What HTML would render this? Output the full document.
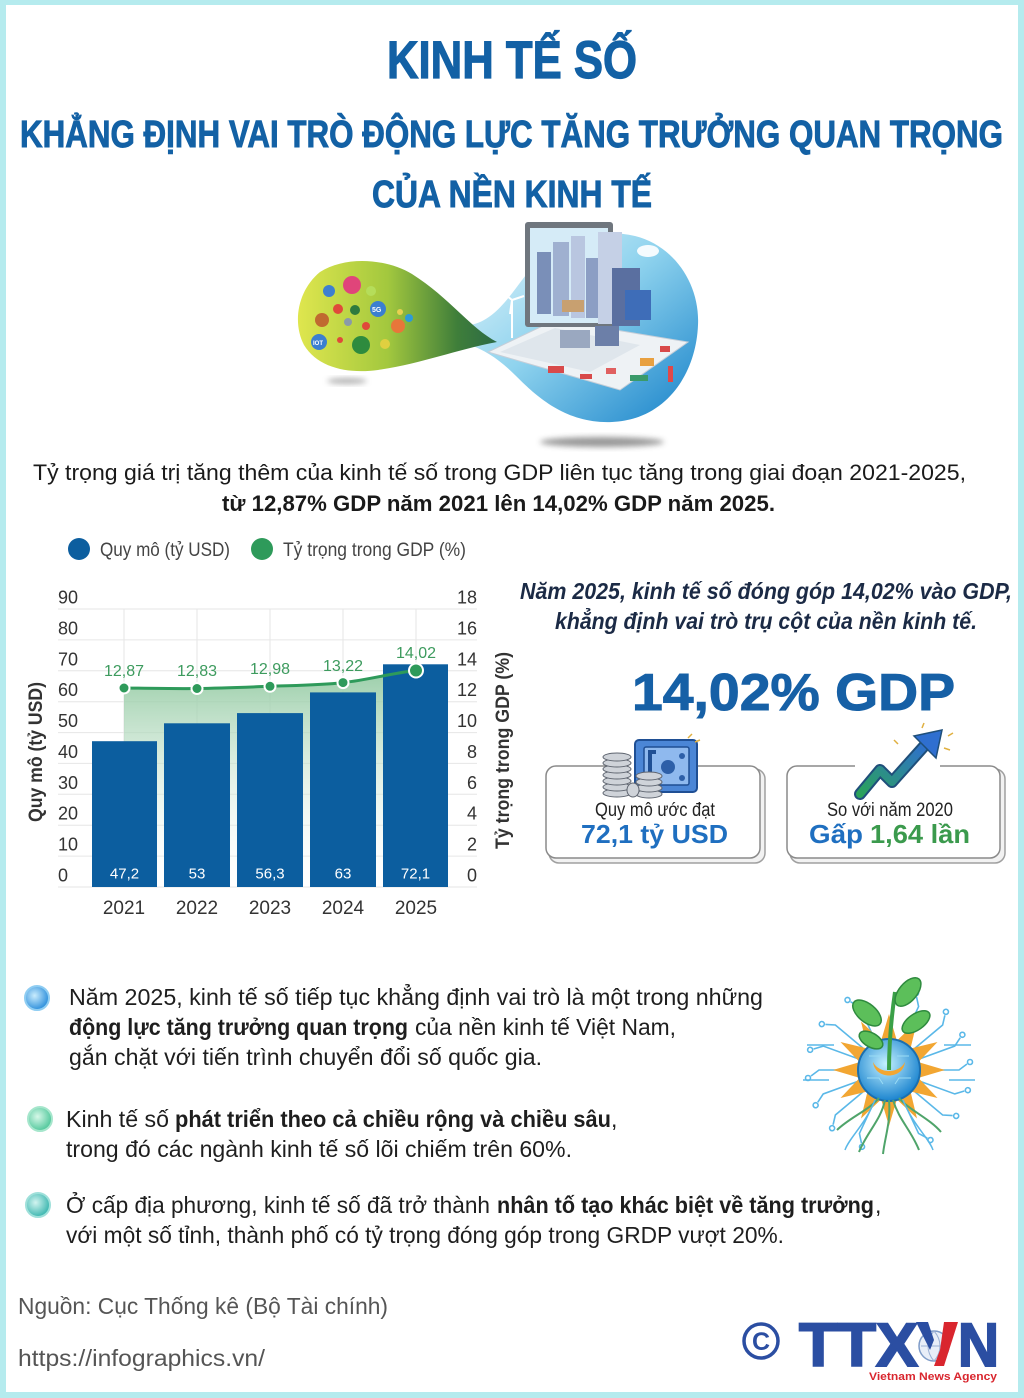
<!DOCTYPE html>
<html><head><meta charset="utf-8">
<style>
html,body{margin:0;padding:0;background:#fff;}
svg{display:block;}
text{font-family:"Liberation Sans","Noto Sans CJK SC",sans-serif;}
</style></head><body>
<svg width="1024" height="1398" viewBox="0 0 1024 1398" xmlns="http://www.w3.org/2000/svg">
<defs>
 <linearGradient id="gGreen" x1="0" y1="0" x2="1" y2="0">
  <stop offset="0" stop-color="#dfe64e"/><stop offset="0.45" stop-color="#a3c83e"/><stop offset="0.8" stop-color="#3f7e3a"/><stop offset="1" stop-color="#2b6a45"/>
 </linearGradient>
 <linearGradient id="gBlue" x1="0" y1="0" x2="1" y2="1">
  <stop offset="0" stop-color="#e6f6fb"/><stop offset="0.45" stop-color="#8fd3ee"/><stop offset="1" stop-color="#1681c9"/>
 </linearGradient>
 <linearGradient id="gArea" x1="0" y1="0" x2="0" y2="1">
  <stop offset="0" stop-color="#8fc89f" stop-opacity="0.9"/><stop offset="1" stop-color="#ffffff" stop-opacity="0.1"/>
 </linearGradient>
 <radialGradient id="gB1" cx="0.4" cy="0.4" r="0.6"><stop offset="0" stop-color="#c9ecfd"/><stop offset="1" stop-color="#2f90dc"/></radialGradient>
 <radialGradient id="gB2" cx="0.4" cy="0.4" r="0.6"><stop offset="0" stop-color="#d6f8e8"/><stop offset="1" stop-color="#52c89c"/></radialGradient>
 <radialGradient id="gB3" cx="0.4" cy="0.4" r="0.6"><stop offset="0" stop-color="#d2f4f0"/><stop offset="1" stop-color="#3db7b0"/></radialGradient>
 <radialGradient id="gPlant" cx="0.45" cy="0.4" r="0.6"><stop offset="0" stop-color="#c4f1ff"/><stop offset="1" stop-color="#1b84cf"/></radialGradient>
 <linearGradient id="gArrow" x1="0" y1="1" x2="1" y2="0"><stop offset="0" stop-color="#2aa25a"/><stop offset="1" stop-color="#2f6fd0"/></linearGradient>
 <filter id="blur" x="-50%" y="-50%" width="200%" height="200%"><feGaussianBlur stdDeviation="3"/></filter>
</defs>

<rect width="1024" height="1398" fill="#b5ebee"/>
<rect x="6" y="5" width="1012" height="1387" fill="#ffffff"/>

<!-- Titles -->
<text x="387" y="78" font-size="53" font-weight="bold" fill="#1361a5" stroke="#1361a5" stroke-width="1.2" textLength="250" lengthAdjust="spacingAndGlyphs">KINH TẾ SỐ</text>
<text x="20" y="147" font-size="38" font-weight="bold" fill="#1361a5" stroke="#1361a5" stroke-width="0.9" textLength="983" lengthAdjust="spacingAndGlyphs">KHẲNG ĐỊNH VAI TRÒ ĐỘNG LỰC TĂNG TRƯỞNG QUAN TRỌNG</text>
<text x="372" y="207" font-size="38" font-weight="bold" fill="#1361a5" stroke="#1361a5" stroke-width="0.9" textLength="280" lengthAdjust="spacingAndGlyphs">CỦA NỀN KINH TẾ</text>

<!-- Illustration -->
<ellipse cx="347" cy="381" rx="20" ry="3" fill="#666" opacity="0.5" filter="url(#blur)"/>
<ellipse cx="602" cy="442" rx="62" ry="5" fill="#444" opacity="0.55" filter="url(#blur)"/>
<path d="M470,325 C500,320 515,285 540,258 C560,238 600,228 635,236 C675,246 700,285 698,325 C696,375 665,420 612,422 C565,424 535,395 515,375 C500,360 485,350 470,345 Z" fill="url(#gBlue)"/>
<path d="M497,342 C470,328 450,298 412,274 C385,258 345,256 320,272 C298,290 292,322 304,345 C318,368 348,374 378,370 C420,364 455,350 497,342 Z" fill="url(#gGreen)"/>
<circle cx="352" cy="285" r="9" fill="#e0457a"/>
<circle cx="371" cy="291" r="5" fill="#b5dd5a"/>
<circle cx="329" cy="291" r="6" fill="#3e7fd0"/>
<circle cx="378" cy="309" r="8" fill="#3b7fd0"/>
<text x="372" y="312" font-size="7" font-weight="bold" fill="#fff">5G</text>
<circle cx="338" cy="309" r="5" fill="#e04a3a"/>
<circle cx="355" cy="310" r="5" fill="#2e7a3e"/>
<circle cx="322" cy="320" r="7" fill="#c06a30"/>
<circle cx="348" cy="322" r="4" fill="#8a9aa8"/>
<circle cx="366" cy="326" r="4" fill="#e04a3a"/>
<circle cx="398" cy="326" r="7" fill="#e8763a"/>
<circle cx="409" cy="318" r="4" fill="#2d9ad8"/>
<circle cx="319" cy="342" r="8" fill="#3b7fd0"/>
<text x="313" y="345" font-size="6" font-weight="bold" fill="#fff">IOT</text>
<circle cx="340" cy="340" r="3" fill="#e04a3a"/>
<circle cx="361" cy="345" r="9" fill="#2e8b3e"/>
<circle cx="385" cy="344" r="5" fill="#e0d040"/>
<circle cx="400" cy="312" r="3" fill="#e8d050"/>
<polygon points="488,352 555,320 688,342 620,390" fill="#eef2f5" stroke="#c5ced8"/>
<polygon points="500,352 555,328 640,345 590,372" fill="#dfe6ec"/>
<rect x="525" y="222" width="88" height="105" rx="3" fill="#6f767e"/>
<rect x="530" y="228" width="78" height="95" fill="#d5ebf7"/>
<rect x="537" y="252" width="14" height="62" fill="#7a8fb8"/>
<rect x="553" y="242" width="16" height="74" fill="#9fb0d0"/>
<rect x="571" y="236" width="14" height="82" fill="#b9c6e0"/>
<rect x="586" y="258" width="16" height="60" fill="#8c9ec4"/>
<rect x="598" y="232" width="24" height="92" fill="#c5d0e6"/>
<rect x="612" y="268" width="28" height="58" fill="#5a6fa0"/>
<rect x="625" y="290" width="26" height="30" fill="#3e6db8"/>
<rect x="562" y="300" width="22" height="12" fill="#c8a070"/>
<rect x="560" y="330" width="30" height="18" fill="#9aa8c0"/>
<rect x="595" y="326" width="24" height="20" fill="#6c7fa8"/>
<line x1="512" y1="300" x2="512" y2="338" stroke="#fff" stroke-width="2"/>
<path d="M512,300 L500,290 M512,300 L524,296 M512,300 L510,314" stroke="#fff" stroke-width="2"/>
<rect x="548" y="366" width="16" height="7" fill="#d84a4a"/>
<rect x="580" y="374" width="12" height="5" fill="#d84a4a"/>
<rect x="606" y="368" width="10" height="6" fill="#e06060"/>
<rect x="640" y="358" width="14" height="8" fill="#e8a040"/>
<rect x="660" y="346" width="10" height="6" fill="#d84a4a"/>
<rect x="668" y="366" width="5" height="16" fill="#e04848"/>
<rect x="630" y="375" width="18" height="6" fill="#3a9a6a"/>
<ellipse cx="648" cy="251" rx="11" ry="6" fill="#fff" opacity="0.9"/>
<ellipse cx="681" cy="237" rx="8" ry="5" fill="#fff" opacity="0.9"/>

<!-- Intro -->
<text x="33" y="480" font-size="22" fill="#1a1a1a" textLength="933" lengthAdjust="spacingAndGlyphs">Tỷ trọng giá trị tăng thêm của kinh tế số trong GDP liên tục tăng trong giai đoạn 2021-2025,</text>
<text x="222" y="511" font-size="22" font-weight="bold" fill="#1a1a1a" textLength="553" lengthAdjust="spacingAndGlyphs">từ 12,87% GDP năm 2021 lên 14,02% GDP năm 2025.</text>

<!-- Legend -->
<circle cx="79" cy="549" r="11" fill="#0c5e9f"/>
<text x="100" y="556" font-size="19" fill="#444" textLength="130" lengthAdjust="spacingAndGlyphs">Quy mô (tỷ USD)</text>
<circle cx="262" cy="549" r="11" fill="#2e9a5a"/>
<text x="283" y="556" font-size="19" fill="#444" textLength="183" lengthAdjust="spacingAndGlyphs">Tỷ trọng trong GDP (%)</text>

<!-- Chart gridlines -->
<g stroke="#e6e6e6" stroke-width="1">
 <line x1="58" y1="609" x2="477" y2="609"/>
 <line x1="58" y1="639.9" x2="477" y2="639.9"/>
 <line x1="58" y1="670.8" x2="477" y2="670.8"/>
 <line x1="58" y1="701.7" x2="477" y2="701.7"/>
 <line x1="58" y1="732.6" x2="477" y2="732.6"/>
 <line x1="58" y1="763.4" x2="477" y2="763.4"/>
 <line x1="58" y1="794.3" x2="477" y2="794.3"/>
 <line x1="58" y1="825.2" x2="477" y2="825.2"/>
 <line x1="58" y1="856.1" x2="477" y2="856.1"/>
 <line x1="58" y1="887" x2="477" y2="887"/>
 <line x1="124" y1="609" x2="124" y2="887"/>
 <line x1="197" y1="609" x2="197" y2="887"/>
 <line x1="270" y1="609" x2="270" y2="887"/>
 <line x1="343" y1="609" x2="343" y2="887"/>
 <line x1="416" y1="609" x2="416" y2="887"/>
</g>
<path d="M124,688 C148,688.3 173,688.8 197,688.5 C221,688.2 246,687.2 270,686.3 C294,685.4 320,685.2 343,682.6 C368,680 392,673 416,670.5 L416,887 L124,887 Z" fill="url(#gArea)"/>
<g fill="#0c5e9f">
 <rect x="92" y="741.2" width="65" height="145.8"/>
 <rect x="164" y="723.3" width="66" height="163.7"/>
 <rect x="237" y="713.1" width="66" height="173.9"/>
 <rect x="310" y="692.4" width="66" height="194.6"/>
 <rect x="383" y="664.3" width="65" height="222.7"/>
</g>
<path d="M124,688 C148,688.3 173,688.8 197,688.5 C221,688.2 246,687.2 270,686.3 C294,685.4 320,685.2 343,682.6 C368,680 392,673 416,670.5" fill="none" stroke="#2e9a5a" stroke-width="3"/>
<g fill="#2e9a5a" stroke="#fff" stroke-width="2">
 <circle cx="124" cy="688" r="5.5"/>
 <circle cx="197" cy="688.5" r="5.5"/>
 <circle cx="270" cy="686.3" r="5.5"/>
 <circle cx="343" cy="682.6" r="5.5"/>
 <circle cx="416" cy="670.5" r="7"/>
</g>
<g font-size="16" fill="#3d9b5e" text-anchor="middle">
 <text x="124" y="676">12,87</text>
 <text x="197" y="676">12,83</text>
 <text x="270" y="674">12,98</text>
 <text x="343" y="671">13,22</text>
 <text x="416" y="658">14,02</text>
</g>
<g font-size="15" fill="#ffffff" text-anchor="middle">
 <text x="124.5" y="878.5">47,2</text>
 <text x="197" y="878.5">53</text>
 <text x="270" y="878.5">56,3</text>
 <text x="343" y="878.5">63</text>
 <text x="415.5" y="878.5">72,1</text>
</g>
<g font-size="19" fill="#333" text-anchor="middle">
 <text x="124" y="914">2021</text>
 <text x="197" y="914">2022</text>
 <text x="270" y="914">2023</text>
 <text x="343" y="914">2024</text>
 <text x="416" y="914">2025</text>
</g>
<g font-size="18" fill="#333">
 <text x="58" y="603.5">90</text>
 <text x="58" y="634.4">80</text>
 <text x="58" y="665.3">70</text>
 <text x="58" y="696.2">60</text>
 <text x="58" y="727.1">50</text>
 <text x="58" y="757.9">40</text>
 <text x="58" y="788.8">30</text>
 <text x="58" y="819.7">20</text>
 <text x="58" y="850.6">10</text>
 <text x="58" y="881.5">0</text>
</g>
<g font-size="18" fill="#333" text-anchor="end">
 <text x="477" y="603.5">18</text>
 <text x="477" y="634.4">16</text>
 <text x="477" y="665.3">14</text>
 <text x="477" y="696.2">12</text>
 <text x="477" y="727.1">10</text>
 <text x="477" y="757.9">8</text>
 <text x="477" y="788.8">6</text>
 <text x="477" y="819.7">4</text>
 <text x="477" y="850.6">2</text>
 <text x="477" y="881.5">0</text>
</g>
<text transform="translate(42,752) rotate(-90)" x="-70" y="0" font-size="19" font-weight="bold" fill="#333" textLength="140" lengthAdjust="spacingAndGlyphs">Quy mô (tỷ USD)</text>
<text transform="translate(509,751) rotate(-90)" x="-98" y="0" font-size="19" font-weight="bold" fill="#333" textLength="197" lengthAdjust="spacingAndGlyphs">Tỷ trọng trong GDP (%)</text>

<!-- Right panel -->
<text x="520" y="599" font-size="23" font-weight="bold" font-style="italic" fill="#1b2a45" textLength="492" lengthAdjust="spacingAndGlyphs">Năm 2025, kinh tế số đóng góp 14,02% vào GDP,</text>
<text x="555" y="629" font-size="23" font-weight="bold" font-style="italic" fill="#1b2a45" textLength="422" lengthAdjust="spacingAndGlyphs">khẳng định vai trò trụ cột của nền kinh tế.</text>
<text x="632" y="710" font-size="52" font-weight="bold" fill="#1660a6" stroke="#1660a6" stroke-width="1" textLength="323" lengthAdjust="spacingAndGlyphs">14,02% GDP</text>

<!-- Boxes -->
<rect x="549" y="769" width="216" height="94" rx="10" fill="#f2f2f2" stroke="#a0a0a0" stroke-width="1.5"/>
<rect x="546" y="766" width="214" height="92" rx="10" fill="#fff" stroke="#8a8a8a" stroke-width="1.5"/>
<rect x="790" y="769" width="215" height="94" rx="10" fill="#f2f2f2" stroke="#a0a0a0" stroke-width="1.5"/>
<rect x="787" y="766" width="213" height="92" rx="10" fill="#fff" stroke="#8a8a8a" stroke-width="1.5"/>
<rect x="607" y="760" width="90" height="10" fill="#fff"/>
<rect x="855" y="760" width="85" height="10" fill="#fff"/>

<!-- Safe icon -->
<rect x="635" y="740" width="62" height="52" rx="4" fill="#4b86d6" stroke="#1f4f94" stroke-width="2"/>
<rect x="644" y="747" width="45" height="38" rx="2" fill="#8fb9ee" stroke="#1f4f94" stroke-width="1.5"/>
<path d="M656,752 L650,752 L650,780 L656,780" fill="none" stroke="#1f4f94" stroke-width="4"/>
<circle cx="668" cy="767" r="7" fill="#2d5fa8"/>
<circle cx="682" cy="756" r="3" fill="#2d5fa8"/>
<circle cx="682" cy="778" r="3" fill="#2d5fa8"/>
<path d="M688,738 L692,734 M695,742 L700,740" stroke="#e0b040" stroke-width="1.5"/>
<g fill="#cfd3d9" stroke="#5f6570" stroke-width="1">
 <ellipse cx="617" cy="793" rx="14" ry="4"/>
 <ellipse cx="617" cy="787" rx="14" ry="4"/>
 <ellipse cx="617" cy="781" rx="14" ry="4"/>
 <ellipse cx="617" cy="775" rx="14" ry="4"/>
 <ellipse cx="617" cy="769" rx="14" ry="4"/>
 <ellipse cx="617" cy="763" rx="14" ry="4"/>
 <ellipse cx="617" cy="757" rx="14" ry="4"/>
 <ellipse cx="649" cy="794" rx="13" ry="4"/>
 <ellipse cx="649" cy="788" rx="13" ry="4"/>
 <ellipse cx="649" cy="782" rx="13" ry="4"/>
 <ellipse cx="649" cy="776" rx="13" ry="4"/>
 <ellipse cx="633" cy="790" rx="6" ry="7"/>
</g>
<!-- Arrow icon -->
<polyline points="860,794 880,770 892,782 926,744" fill="none" stroke="#1f4f7a" stroke-width="12" stroke-linejoin="round" stroke-linecap="round"/>
<polyline points="860,794 880,770 892,782 926,744" fill="none" stroke="url(#gArrow)" stroke-width="8" stroke-linejoin="round" stroke-linecap="round"/>
<polygon points="914,736 942,730 936,758" fill="#2f6fd0" stroke="#1f4f7a" stroke-width="1.5"/>
<path d="M894,740 L898,744 M922,728 L924,723 M944,748 L950,750 M948,736 L953,733" stroke="#e0b040" stroke-width="1.5"/>

<text x="595" y="816" font-size="19" fill="#222" textLength="120" lengthAdjust="spacingAndGlyphs">Quy mô ước đạt</text>
<text x="581" y="843" font-size="26" font-weight="bold" fill="#1f6fc0" textLength="147" lengthAdjust="spacingAndGlyphs">72,1 tỷ USD</text>
<text x="827" y="816" font-size="19" fill="#222" textLength="126" lengthAdjust="spacingAndGlyphs">So với năm 2020</text>
<text x="809" y="843" font-size="26" font-weight="bold" fill="#1f6fc0" textLength="54" lengthAdjust="spacingAndGlyphs">Gấp</text>
<text x="870" y="843" font-size="26" font-weight="bold" fill="#3b9a4d" textLength="100" lengthAdjust="spacingAndGlyphs">1,64 lần</text>

<!-- Bullets -->
<circle cx="37" cy="998" r="12" fill="url(#gB1)" stroke="#8fcdf2" stroke-width="2"/>
<circle cx="40" cy="1119" r="12" fill="url(#gB2)" stroke="#a6e6cc" stroke-width="2"/>
<circle cx="38" cy="1205" r="12" fill="url(#gB3)" stroke="#9fe0da" stroke-width="2"/>
<g font-size="23" fill="#1e1e1e">
 <text x="69" y="1005" textLength="694" lengthAdjust="spacingAndGlyphs">Năm 2025, kinh tế số tiếp tục khẳng định vai trò là một trong những</text>
 <text x="69" y="1035" font-weight="bold" textLength="339" lengthAdjust="spacingAndGlyphs">động lực tăng trưởng quan trọng</text>
 <text x="415" y="1035" textLength="261" lengthAdjust="spacingAndGlyphs">của nền kinh tế Việt Nam,</text>
 <text x="69" y="1065" textLength="473" lengthAdjust="spacingAndGlyphs">gắn chặt với tiến trình chuyển đổi số quốc gia.</text>
 <text x="66" y="1127" textLength="103" lengthAdjust="spacingAndGlyphs">Kinh tế số</text>
 <text x="175" y="1127" font-weight="bold" textLength="436" lengthAdjust="spacingAndGlyphs">phát triển theo cả chiều rộng và chiều sâu</text>
 <text x="611" y="1127">,</text>
 <text x="66" y="1157" textLength="506" lengthAdjust="spacingAndGlyphs">trong đó các ngành kinh tế số lõi chiếm trên 60%.</text>
 <text x="66" y="1213" textLength="424" lengthAdjust="spacingAndGlyphs">Ở cấp địa phương, kinh tế số đã trở thành</text>
 <text x="497" y="1213" font-weight="bold" textLength="377" lengthAdjust="spacingAndGlyphs">nhân tố tạo khác biệt về tăng trưởng</text>
 <text x="875" y="1213">,</text>
 <text x="66" y="1243" textLength="718" lengthAdjust="spacingAndGlyphs">với một số tỉnh, thành phố có tỷ trọng đóng góp trong GRDP vượt 20%.</text>
</g>

<!-- Plant illustration -->
<g transform="translate(889,1070)">
 <g stroke="#5ab8e8" stroke-width="1.6" fill="none">
  <g id="ray1"><path d="M34,0 L70,0 L78,-6"/><circle cx="81" cy="-8" r="2.5"/></g>
  <use href="#ray1" transform="rotate(20)"/>
  <use href="#ray1" transform="rotate(-20)"/>
  <use href="#ray1" transform="rotate(40)"/>
  <use href="#ray1" transform="rotate(-40)"/>
  <use href="#ray1" transform="rotate(180)"/>
  <use href="#ray1" transform="rotate(160)"/>
  <use href="#ray1" transform="rotate(200)"/>
  <use href="#ray1" transform="rotate(140)"/>
  <use href="#ray1" transform="rotate(220)"/>
  <use href="#ray1" transform="rotate(65)"/>
  <use href="#ray1" transform="rotate(115)"/>
  <use href="#ray1" transform="rotate(-65)"/>
  <use href="#ray1" transform="rotate(-115)"/>
  <path d="M-60,10 L-86,10 M60,10 L86,10 M-55,-25 L-82,-25 M55,-25 L82,-25"/>
 </g>
 <g fill="#f2a632">
  <polygon id="sr" points="-8,-29 8,-29 0,-56"/>
  <use href="#sr" transform="rotate(30)"/>
  <use href="#sr" transform="rotate(60)"/>
  <use href="#sr" transform="rotate(90)"/>
  <use href="#sr" transform="rotate(120)"/>
  <use href="#sr" transform="rotate(150)"/>
  <use href="#sr" transform="rotate(180)"/>
  <use href="#sr" transform="rotate(210)"/>
  <use href="#sr" transform="rotate(240)"/>
  <use href="#sr" transform="rotate(270)"/>
  <use href="#sr" transform="rotate(300)"/>
  <use href="#sr" transform="rotate(330)"/>
 </g>
 <circle r="31" fill="url(#gPlant)" stroke="#1a6fb0" stroke-width="2"/>
 <path d="M-16,-8 C-14,10 14,10 16,-8 C10,4 -10,4 -16,-8 Z" fill="#f2a632"/>
 <g stroke="#9adcf5" stroke-width="1" fill="none">
  <path d="M-22,8 L-10,8 L-6,14 M22,8 L10,8 L6,14 M-20,-14 L-8,-14 M20,-14 L8,-14"/>
 </g>
 <g stroke="#4fa46a" stroke-width="2" fill="none">
  <path d="M-4,30 C-8,50 -22,62 -30,82"/>
  <path d="M0,30 C2,52 -4,66 -6,84"/>
  <path d="M4,30 C10,50 22,60 30,80"/>
  <path d="M-10,28 C-20,40 -40,48 -52,60"/>
  <path d="M10,28 C20,40 40,48 52,62"/>
 </g>
 <g stroke="#5ab8e8" stroke-width="1.5" fill="none">
  <path d="M-14,30 C-24,55 -40,68 -44,80"/>
  <path d="M14,30 C24,55 40,68 44,80"/>
 </g>
 <path d="M0,0 C0,-25 2,-50 6,-78" stroke="#3aa048" stroke-width="4" fill="none"/>
 <g fill="#5cbf5a" stroke="#2e8a3e" stroke-width="1.5">
  <ellipse cx="19" cy="-78" rx="17" ry="9" transform="rotate(-50 19 -78)"/>
  <ellipse cx="-22" cy="-57" rx="17" ry="9" transform="rotate(40 -22 -57)"/>
  <ellipse cx="27" cy="-48" rx="16" ry="8" transform="rotate(-35 27 -48)"/>
  <ellipse cx="-18" cy="-30" rx="13" ry="7" transform="rotate(30 -18 -30)"/>
 </g>
</g>

<!-- Footer -->
<text x="18" y="1314" font-size="23" fill="#555" textLength="370" lengthAdjust="spacingAndGlyphs">Nguồn: Cục Thống kê (Bộ Tài chính)</text>
<text x="18" y="1366" font-size="23" fill="#555" textLength="247" lengthAdjust="spacingAndGlyphs">https://infographics.vn/</text>

<!-- Logo -->
<circle cx="761" cy="1341" r="17" fill="none" stroke="#2b4ea2" stroke-width="3.5"/>
<text x="761" y="1350" font-size="25" font-weight="bold" fill="#2b4ea2" text-anchor="middle">C</text>
<text x="799" y="1366" font-size="61" font-weight="bold" fill="#2b4ea2" stroke="#2b4ea2" stroke-width="2" textLength="119" lengthAdjust="spacingAndGlyphs">TTX</text>
<circle cx="934" cy="1346" r="15" fill="#e8eef8" stroke="#7f9cc8" stroke-width="1.5"/>
<path d="M921,1346 L947,1346 M934,1331 C926,1340 926,1352 934,1361 M934,1331 C942,1340 942,1352 934,1361" stroke="#9ab0d4" stroke-width="1" fill="none"/>
<polygon points="944,1322 958,1322 944,1366 934,1366 940,1350" fill="#d9262e"/>
<polygon points="916,1322 928,1322 934,1340 930,1350" fill="#2b4ea2"/>
<text x="958" y="1366" font-size="61" font-weight="bold" fill="#2b4ea2" stroke="#2b4ea2" stroke-width="2" textLength="41" lengthAdjust="spacingAndGlyphs">N</text>
<text x="869" y="1380" font-size="11" font-weight="bold" fill="#d9262e" textLength="128" lengthAdjust="spacingAndGlyphs">Vietnam News Agency</text>
</svg>
</body></html>
